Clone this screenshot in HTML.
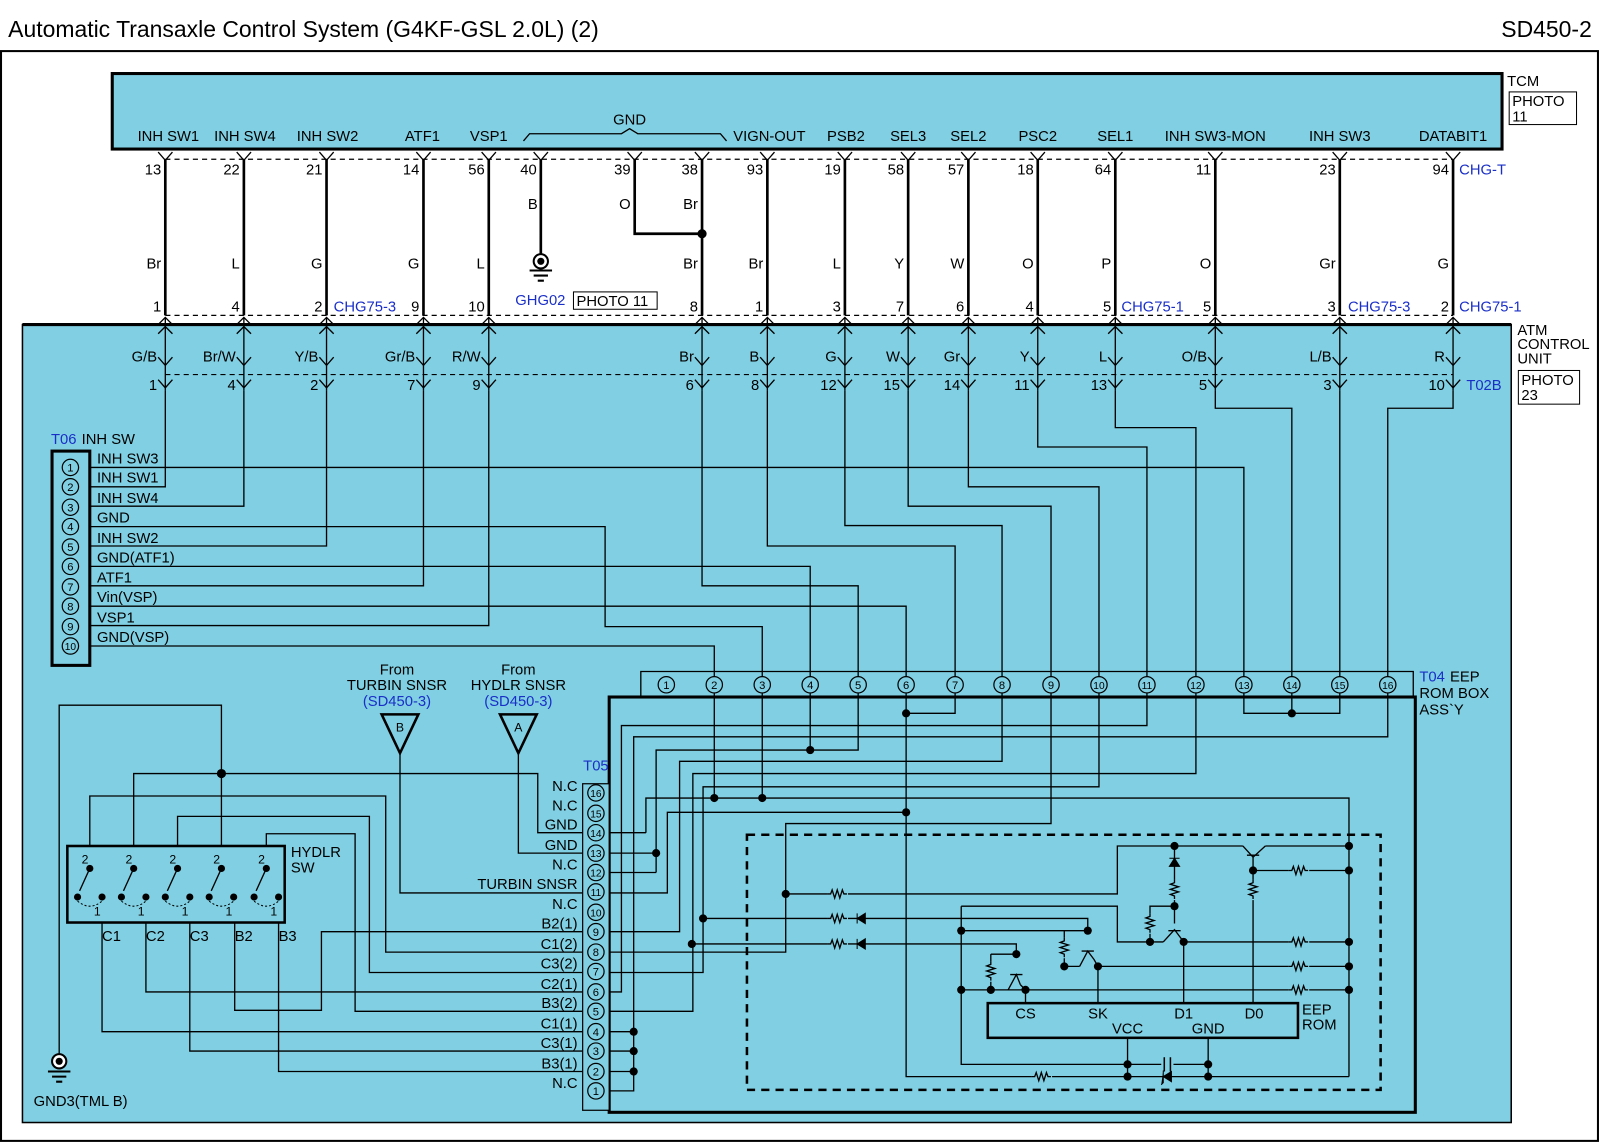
<!DOCTYPE html>
<html><head><meta charset="utf-8"><style>
html,body{margin:0;padding:0;background:#fff;}
svg{display:block;}
text{font-family:"Liberation Sans",Arial,sans-serif;font-size:14.5px;fill:#000;}
.b{fill:#1a2fc8;}
.w{stroke:#000;stroke-width:1.3;fill:none;}
.t{stroke:#000;stroke-width:2.6;fill:none;}
.d{stroke:#000;stroke-width:1.2;stroke-dasharray:5,4;fill:none;}
.c{fill:#80cfe2;stroke:#000;stroke-width:1.2;}
.e{text-anchor:end;}
.m{text-anchor:middle;}
</style></head><body>
<svg width="1600" height="1143" viewBox="0 0 1568 1120" xmlns="http://www.w3.org/2000/svg">
<defs>
<g id="rh"><rect x="-10" y="-5" width="20" height="10" fill="#80cfe2"/><path d="M-10,0 h3 l1.5,-4 l2.5,8 l2.5,-8 l2.5,8 l2.5,-8 l1.5,4 h3" class="w"/></g>
<g id="rv"><rect x="-5" y="-10" width="10" height="20" fill="#80cfe2"/><path d="M0,-10 v3 l-4,1.5 l8,2.5 l-8,2.5 l8,2.5 l-8,2.5 l4,1.5 v3" class="w"/></g>
</defs>
<rect x="0" y="0" width="1568" height="1120" fill="#fff"/>
<text x="8" y="36" style="font-size:22.5px">Automatic Transaxle Control System (G4KF-GSL 2.0L) (2)</text>
<text x="1560" y="36" class="e" style="font-size:22.5px">SD450-2</text>
<rect x="1" y="50" width="1565" height="1068" fill="none" stroke="#000" stroke-width="2"/>

<!-- TCM -->
<rect x="110" y="72" width="1362" height="74" fill="#80cfe2" stroke="#000" stroke-width="3"/>
<text x="1477" y="84">TCM</text>
<rect x="1479" y="90" width="66" height="32" fill="#fff" stroke="#000"/>
<text x="1482" y="104">PHOTO</text><text x="1482" y="119">11</text>
<g class="m">
<text x="165" y="138">INH SW1</text><text x="240" y="138">INH SW4</text><text x="321" y="138">INH SW2</text>
<text x="414" y="138">ATF1</text><text x="479" y="138">VSP1</text><text x="617" y="122">GND</text>
<text x="754" y="138">VIGN-OUT</text><text x="829" y="138">PSB2</text><text x="890" y="138">SEL3</text>
<text x="949" y="138">SEL2</text><text x="1017" y="138">PSC2</text><text x="1093" y="138">SEL1</text>
<text x="1191" y="138">INH SW3-MON</text><text x="1313" y="138">INH SW3</text><text x="1424" y="138">DATABIT1</text>
</g>
<path d="M513,138 l6,-7 h90 l8,-5 l8,5 h81 l6,7" class="w"/>

<!-- ATM box -->
<rect x="22" y="318" width="1459" height="782" fill="#80cfe2" stroke="#000" stroke-width="1.5"/>
<line x1="22" y1="318" x2="1481" y2="318" stroke="#000" stroke-width="3"/>
<text x="1487" y="328">ATM</text><text x="1487" y="342">CONTROL</text><text x="1487" y="356">UNIT</text>
<rect x="1488" y="363" width="60" height="33" fill="#fff" stroke="#000"/>
<text x="1491" y="377">PHOTO</text><text x="1491" y="392">23</text>

<line x1="162" y1="156" x2="1424" y2="156" class="d"/>
<line x1="162" y1="309" x2="1424" y2="309" class="d"/>
<line x1="162" y1="367" x2="1424" y2="367" class="d"/>

<g class="t">
<path d="M162,156V309M239,156V309M320,156V309M415,156V309M479,156V309M688,156V309M752,156V309M828,156V309M890,156V309M949,156V309M1017,156V309M1093,156V309M1191,156V309M1313,156V309M1424,156V309"/>
<path d="M530,156V252M622,156V229H688"/>
</g>
<circle cx="688" cy="229" r="4.5"/>
<circle cx="530" cy="256" r="7" fill="#fff" stroke="#000" stroke-width="2"/><circle cx="530" cy="256" r="3.5"/>
<path d="M519,265h22M523,270h14M527,275h6" stroke="#000" stroke-width="2"/>
<text x="505" y="299" class="b">GHG02</text>
<rect x="562" y="286" width="82" height="17" fill="#fff" stroke="#000"/><text x="565" y="300">PHOTO 11</text>
<g class="w">
<path d="M155,149l7,8l7,-8M232,149l7,8l7,-8M313,149l7,8l7,-8M408,149l7,8l7,-8M472,149l7,8l7,-8M523,149l7,8l7,-8M615,149l7,8l7,-8M681,149l7,8l7,-8M745,149l7,8l7,-8M821,149l7,8l7,-8M883,149l7,8l7,-8M942,149l7,8l7,-8M1010,149l7,8l7,-8M1086,149l7,8l7,-8M1184,149l7,8l7,-8M1306,149l7,8l7,-8M1417,149l7,8l7,-8"/>
</g>
<g class="e">
<text x="158" y="171">13</text><text x="235" y="171">22</text><text x="316" y="171">21</text><text x="411" y="171">14</text><text x="475" y="171">56</text><text x="526" y="171">40</text><text x="618" y="171">39</text><text x="684" y="171">38</text><text x="748" y="171">93</text><text x="824" y="171">19</text><text x="886" y="171">58</text><text x="945" y="171">57</text><text x="1013" y="171">18</text><text x="1089" y="171">64</text><text x="1187" y="171">11</text><text x="1309" y="171">23</text><text x="1420" y="171">94</text>
<text x="527" y="205">B</text><text x="618" y="205">O</text><text x="684" y="205">Br</text>
<text x="158" y="263">Br</text><text x="235" y="263">L</text><text x="316" y="263">G</text><text x="411" y="263">G</text><text x="475" y="263">L</text><text x="684" y="263">Br</text><text x="748" y="263">Br</text><text x="824" y="263">L</text><text x="886" y="263">Y</text><text x="945" y="263">W</text><text x="1013" y="263">O</text><text x="1089" y="263">P</text><text x="1187" y="263">O</text><text x="1309" y="263">Gr</text><text x="1420" y="263">G</text>
<text x="158" y="305">1</text><text x="235" y="305">4</text><text x="316" y="305">2</text><text x="411" y="305">9</text><text x="475" y="305">10</text><text x="684" y="305">8</text><text x="748" y="305">1</text><text x="824" y="305">3</text><text x="886" y="305">7</text><text x="945" y="305">6</text><text x="1013" y="305">4</text><text x="1089" y="305">5</text><text x="1187" y="305">5</text><text x="1309" y="305">3</text><text x="1420" y="305">2</text>
</g>
<text x="1430" y="171" class="b">CHG-T</text>
<text x="327" y="305" class="b">CHG75-3</text><text x="1099" y="305" class="b">CHG75-1</text><text x="1321" y="305" class="b">CHG75-3</text><text x="1430" y="305" class="b">CHG75-1</text>

<g class="w">
<path d="M162,311V383M239,311V383M320,311V383M415,311V383M479,311V383M688,311V383M752,311V383M828,311V383M890,311V383M949,311V383M1017,311V383M1093,311V383M1191,311V383M1313,311V383M1424,311V383"/>
</g>
<g class="w">
<path d="M155,318l7,-7l7,7M155,327l7,-7l7,7M155,350l7,8l7,-8M155,372l7,8l7,-8"/>
<path d="M232,318l7,-7l7,7M232,327l7,-7l7,7M232,350l7,8l7,-8M232,372l7,8l7,-8"/>
<path d="M313,318l7,-7l7,7M313,327l7,-7l7,7M313,350l7,8l7,-8M313,372l7,8l7,-8"/>
<path d="M408,318l7,-7l7,7M408,327l7,-7l7,7M408,350l7,8l7,-8M408,372l7,8l7,-8"/>
<path d="M472,318l7,-7l7,7M472,327l7,-7l7,7M472,350l7,8l7,-8M472,372l7,8l7,-8"/>
<path d="M681,318l7,-7l7,7M681,327l7,-7l7,7M681,350l7,8l7,-8M681,372l7,8l7,-8"/>
<path d="M745,318l7,-7l7,7M745,327l7,-7l7,7M745,350l7,8l7,-8M745,372l7,8l7,-8"/>
<path d="M821,318l7,-7l7,7M821,327l7,-7l7,7M821,350l7,8l7,-8M821,372l7,8l7,-8"/>
<path d="M883,318l7,-7l7,7M883,327l7,-7l7,7M883,350l7,8l7,-8M883,372l7,8l7,-8"/>
<path d="M942,318l7,-7l7,7M942,327l7,-7l7,7M942,350l7,8l7,-8M942,372l7,8l7,-8"/>
<path d="M1010,318l7,-7l7,7M1010,327l7,-7l7,7M1010,350l7,8l7,-8M1010,372l7,8l7,-8"/>
<path d="M1086,318l7,-7l7,7M1086,327l7,-7l7,7M1086,350l7,8l7,-8M1086,372l7,8l7,-8"/>
<path d="M1184,318l7,-7l7,7M1184,327l7,-7l7,7M1184,350l7,8l7,-8M1184,372l7,8l7,-8"/>
<path d="M1306,318l7,-7l7,7M1306,327l7,-7l7,7M1306,350l7,8l7,-8M1306,372l7,8l7,-8"/>
<path d="M1417,318l7,-7l7,7M1417,327l7,-7l7,7M1417,350l7,8l7,-8M1417,372l7,8l7,-8"/>
</g>
<g class="e">
<text x="154" y="354">G/B</text><text x="231" y="354">Br/W</text><text x="312" y="354">Y/B</text><text x="407" y="354">Gr/B</text><text x="471" y="354">R/W</text><text x="680" y="354">Br</text><text x="744" y="354">B</text><text x="820" y="354">G</text><text x="882" y="354">W</text><text x="941" y="354">Gr</text><text x="1009" y="354">Y</text><text x="1085" y="354">L</text><text x="1183" y="354">O/B</text><text x="1305" y="354">L/B</text><text x="1416" y="354">R</text>
<text x="154" y="382">1</text><text x="231" y="382">4</text><text x="312" y="382">2</text><text x="407" y="382">7</text><text x="471" y="382">9</text><text x="680" y="382">6</text><text x="744" y="382">8</text><text x="820" y="382">12</text><text x="882" y="382">15</text><text x="941" y="382">14</text><text x="1009" y="382">11</text><text x="1085" y="382">13</text><text x="1183" y="382">5</text><text x="1305" y="382">3</text><text x="1416" y="382">10</text>
</g>
<text x="1437" y="382" class="b">T02B</text>

<g class="w">
<path d="M162,383V477H88M239,383V496H88M320,383V535H88M415,383V574H88M479,383V613H88"/>
<path d="M688,383V574H841V683M752,383V535H936V683M828,383V515H982V683M890,383V496H1030V683M949,383V477H1077V683M1017,383V438H1124V683M1093,383V419H1172V683M1191,383V400H1266V683M1313,383V683M1424,383V400H1360V683"/>
<path d="M88,458H1219V683M88,516H593V614H747V683M88,555H794V683M88,594H888V683M88,633H700V683"/>
</g>

<text x="50" y="435" class="b">T06</text><text x="80" y="435">INH SW</text>
<rect x="51" y="442" width="37" height="210" fill="#80cfe2" stroke="#000" stroke-width="3"/>
<g>
<circle cx="69" cy="458" r="8" class="c"/><circle cx="69" cy="477" r="8" class="c"/><circle cx="69" cy="497" r="8" class="c"/><circle cx="69" cy="516" r="8" class="c"/><circle cx="69" cy="536" r="8" class="c"/><circle cx="69" cy="555" r="8" class="c"/><circle cx="69" cy="575" r="8" class="c"/><circle cx="69" cy="594" r="8" class="c"/><circle cx="69" cy="614" r="8" class="c"/><circle cx="69" cy="633" r="8" class="c"/>
</g>
<g class="m">
<text x="69" y="462" style="font-size:11px">1</text><text x="69" y="481" style="font-size:11px">2</text><text x="69" y="501" style="font-size:11px">3</text><text x="69" y="520" style="font-size:11px">4</text><text x="69" y="540" style="font-size:11px">5</text><text x="69" y="559" style="font-size:11px">6</text><text x="69" y="579" style="font-size:11px">7</text><text x="69" y="598" style="font-size:11px">8</text><text x="69" y="618" style="font-size:11px">9</text><text x="69" y="637" style="font-size:10px">10</text>
</g>
<text x="95" y="454">INH SW3</text><text x="95" y="473">INH SW1</text><text x="95" y="493">INH SW4</text><text x="95" y="512">GND</text><text x="95" y="532">INH SW2</text><text x="95" y="551">GND(ATF1)</text><text x="95" y="571">ATF1</text><text x="95" y="590">Vin(VSP)</text><text x="95" y="610">VSP1</text><text x="95" y="629">GND(VSP)</text>

<path d="M628,683V658H1385V683" class="w"/>
<rect x="597" y="683" width="790" height="407" fill="#80cfe2" stroke="#000" stroke-width="3"/>
<text x="1391" y="668" class="b">T04</text><text x="1421" y="668">EEP</text><text x="1391" y="684">ROM BOX</text><text x="1391" y="700">ASS`Y</text>

<g class="w">
<path d="M700,683V782M747,683V782M633,816V782H1322V1055M794,683V735M643,855V735H841V683"/>
<path d="M888,683V1055H1322M936,683V699H888"/>
<path d="M982,683V746H666V913H597M1030,683V807H770V933H597M1077,683V771H689V953H597M1124,683V711H609V972H597M1172,683V758H679V991H597"/>
<path d="M1219,683V699H1313V683M1266,683V699M1360,683V722H621V1069H597M597,1011H621M597,1030H621M597,1050H621"/>
<path d="M597,875H654V796H888M597,816H633M597,836H643M597,855H643"/>
</g>
<g>
<circle cx="700" cy="782" r="4"/><circle cx="747" cy="782" r="4"/><circle cx="794" cy="735" r="4"/><circle cx="888" cy="699" r="4"/><circle cx="888" cy="796" r="4"/><circle cx="1266" cy="699" r="4"/><circle cx="643" cy="836" r="4"/><circle cx="621" cy="1011" r="4"/><circle cx="621" cy="1030" r="4"/><circle cx="621" cy="1050" r="4"/>
</g>
<g>
<circle cx="653" cy="671" r="8" class="c"/><circle cx="700" cy="671" r="8" class="c"/><circle cx="747" cy="671" r="8" class="c"/><circle cx="794" cy="671" r="8" class="c"/><circle cx="841" cy="671" r="8" class="c"/><circle cx="888" cy="671" r="8" class="c"/><circle cx="936" cy="671" r="8" class="c"/><circle cx="982" cy="671" r="8" class="c"/><circle cx="1030" cy="671" r="8" class="c"/><circle cx="1077" cy="671" r="8" class="c"/><circle cx="1124" cy="671" r="8" class="c"/><circle cx="1172" cy="671" r="8" class="c"/><circle cx="1219" cy="671" r="8" class="c"/><circle cx="1266" cy="671" r="8" class="c"/><circle cx="1313" cy="671" r="8" class="c"/><circle cx="1360" cy="671" r="8" class="c"/>
</g>
<g class="m">
<text x="653" y="675" style="font-size:11px">1</text><text x="700" y="675" style="font-size:11px">2</text><text x="747" y="675" style="font-size:11px">3</text><text x="794" y="675" style="font-size:11px">4</text><text x="841" y="675" style="font-size:11px">5</text><text x="888" y="675" style="font-size:11px">6</text><text x="936" y="675" style="font-size:11px">7</text><text x="982" y="675" style="font-size:11px">8</text><text x="1030" y="675" style="font-size:11px">9</text><text x="1077" y="675" style="font-size:10px">10</text><text x="1124" y="675" style="font-size:10px">11</text><text x="1172" y="675" style="font-size:10px">12</text><text x="1219" y="675" style="font-size:10px">13</text><text x="1266" y="675" style="font-size:10px">14</text><text x="1313" y="675" style="font-size:10px">15</text><text x="1360" y="675" style="font-size:10px">16</text>
</g>

<g class="w">
<path d="M58,1033V691H217V829M131,829V758H527V816H571M88,829V780H378V933H571M174,829V800H362V953H571M261,829V817H348V991H571"/>
<path d="M392,738V875H571M508,738V836H571"/>
<path d="M100,904V1011H571M143,904V972H571M186,904V1030H571M230,904V990H315V913H571M273,904V1050H571"/>
</g>
<circle cx="217" cy="758" r="4.5"/>
<circle cx="58" cy="1040" r="7" fill="#fff" stroke="#000" stroke-width="2"/><circle cx="58" cy="1040" r="3.5"/>
<path d="M47,1050h22M51,1055h14M55,1060h6" stroke="#000" stroke-width="2"/>
<text x="33" y="1084">GND3(TML B)</text>
<path d="M374,700H410L392,738Z" fill="none" stroke="#000" stroke-width="2.5"/>
<text x="392" y="717" class="m" style="font-size:12px">B</text>
<path d="M490,700H526L508,738Z" fill="none" stroke="#000" stroke-width="2.5"/>
<text x="508" y="717" class="m" style="font-size:12px">A</text>
<text x="389" y="661" class="m">From</text><text x="389" y="676" class="m">TURBIN SNSR</text><text x="389" y="692" class="m b">(SD450-3)</text>
<text x="508" y="661" class="m">From</text><text x="508" y="676" class="m">HYDLR SNSR</text><text x="508" y="692" class="m b">(SD450-3)</text>

<rect x="66" y="829" width="213" height="75" fill="#80cfe2" stroke="#000" stroke-width="2.5"/>
<text x="285" y="840">HYDLR</text><text x="285" y="855">SW</text>
<g id="sw">
<circle cx="88" cy="851" r="3.5"/><circle cx="76" cy="879" r="3.5"/><circle cx="100" cy="879" r="3.5"/>
<path d="M88,851L78,873" class="w"/><path d="M76,883q12,10 24,0" fill="none" stroke="#000" stroke-dasharray="2,2"/>
<text x="80" y="846" style="font-size:12px">2</text><text x="92" y="897" style="font-size:12px">1</text>
</g>
<use href="#sw" x="43"/><use href="#sw" x="86"/><use href="#sw" x="129"/><use href="#sw" x="173"/>
<text x="100" y="922">C1</text><text x="143" y="922">C2</text><text x="186" y="922">C3</text><text x="230" y="922">B2</text><text x="273" y="922">B3</text>

<text x="584" y="755" class="m b">T05</text>
<rect x="571" y="768" width="26" height="320" fill="#80cfe2" stroke="#000" stroke-width="1.2"/>
<g>
<circle cx="584" cy="777" r="8" class="c"/><circle cx="584" cy="797" r="8" class="c"/><circle cx="584" cy="816" r="8" class="c"/><circle cx="584" cy="836" r="8" class="c"/><circle cx="584" cy="855" r="8" class="c"/><circle cx="584" cy="874" r="8" class="c"/><circle cx="584" cy="894" r="8" class="c"/><circle cx="584" cy="913" r="8" class="c"/><circle cx="584" cy="933" r="8" class="c"/><circle cx="584" cy="952" r="8" class="c"/><circle cx="584" cy="972" r="8" class="c"/><circle cx="584" cy="991" r="8" class="c"/><circle cx="584" cy="1011" r="8" class="c"/><circle cx="584" cy="1030" r="8" class="c"/><circle cx="584" cy="1050" r="8" class="c"/><circle cx="584" cy="1069" r="8" class="c"/>
</g>
<g class="m">
<text x="584" y="781" style="font-size:10px">16</text><text x="584" y="801" style="font-size:10px">15</text><text x="584" y="820" style="font-size:10px">14</text><text x="584" y="840" style="font-size:10px">13</text><text x="584" y="859" style="font-size:10px">12</text><text x="584" y="878" style="font-size:10px">11</text><text x="584" y="898" style="font-size:10px">10</text><text x="584" y="917" style="font-size:11px">9</text><text x="584" y="937" style="font-size:11px">8</text><text x="584" y="956" style="font-size:11px">7</text><text x="584" y="976" style="font-size:11px">6</text><text x="584" y="995" style="font-size:11px">5</text><text x="584" y="1015" style="font-size:11px">4</text><text x="584" y="1034" style="font-size:11px">3</text><text x="584" y="1054" style="font-size:11px">2</text><text x="584" y="1073" style="font-size:11px">1</text>
</g>
<g class="e">
<text x="566" y="775">N.C</text><text x="566" y="794">N.C</text><text x="566" y="813">GND</text><text x="566" y="833">GND</text><text x="566" y="852">N.C</text><text x="566" y="871">TURBIN SNSR</text><text x="566" y="891">N.C</text><text x="566" y="910">B2(1)</text><text x="566" y="930">C1(2)</text><text x="566" y="949">C3(2)</text><text x="566" y="969">C2(1)</text><text x="566" y="988">B3(2)</text><text x="566" y="1008">C1(1)</text><text x="566" y="1027">C3(1)</text><text x="566" y="1047">B3(1)</text><text x="566" y="1066">N.C</text>
</g>

<rect x="732" y="818" width="621" height="250" fill="none" stroke="#000" stroke-width="2.5" stroke-dasharray="8,6"/>
<g class="w">
<path d="M770,876H1095V829H1218M1240,829H1322"/>
<path d="M1151,829V905M1151,888H1127V923M942,888H1095V923H1140M1160,923H1322M1160,923V982"/>
<path d="M1228,840V982M1228,853H1322"/>
<path d="M689,900H1066V912M942,912H1066M1043,912V947H1058M1072,940L1076,947H1322M1076,947V982"/>
<path d="M678,925H996V935M971,935H996M971,935V970H988M1000,965L1005,970H1322M942,970H1005M1005,970V982"/>
<path d="M942,888V1043H1184M1105,1017V1055M1184,1017V1055"/>
<path d="M1218,829L1228,840L1240,829M1222,838H1234"/>
<path d="M1140,923L1151,911L1160,923M1145,912H1157"/>
<path d="M1058,947L1066,932L1072,940M1060,932H1072"/>
<path d="M988,970L996,955L1000,965M990,955H1002"/>
</g>
<use href="#rh" x="821" y="876"/><use href="#rh" x="821" y="900"/><use href="#rh" x="821" y="925"/>
<use href="#rh" x="1273" y="853"/><use href="#rh" x="1273" y="923"/><use href="#rh" x="1273" y="947"/><use href="#rh" x="1273" y="970"/><use href="#rh" x="1021" y="1055"/>
<use href="#rv" x="1151" y="872"/><use href="#rv" x="1127" y="905"/><use href="#rv" x="1228" y="872"/><use href="#rv" x="1043" y="929"/><use href="#rv" x="971" y="952"/>
<path d="M840,900l8,-5v10z M840,895v10" stroke="#000" fill="#000"/>
<path d="M840,925l8,-5v10z M840,920v10" stroke="#000" fill="#000"/>
<path d="M1151,841l-5,8h10z M1146,841h10" stroke="#000" fill="#000"/>
<rect x="1138" y="1037" width="12" height="12" fill="#80cfe2"/>
<path d="M1141,1036v14M1147,1036v14" stroke="#000" stroke-width="1.5"/>
<path d="M1140,1055l8,-5v10z M1140,1049v12l-2,2" stroke="#000" fill="#000"/>
<g>
<circle cx="770" cy="876" r="4"/><circle cx="689" cy="900" r="4"/><circle cx="678" cy="925" r="4"/>
<circle cx="1322" cy="829" r="4"/><circle cx="1322" cy="853" r="4"/><circle cx="1322" cy="923" r="4"/><circle cx="1322" cy="947" r="4"/><circle cx="1322" cy="970" r="4"/>
<circle cx="1151" cy="829" r="4"/><circle cx="1151" cy="888" r="4"/><circle cx="1127" cy="923" r="4"/><circle cx="1160" cy="923" r="4"/><circle cx="1228" cy="853" r="4"/>
<circle cx="942" cy="912" r="4"/><circle cx="1066" cy="912" r="4"/><circle cx="1043" cy="947" r="4"/><circle cx="1076" cy="947" r="4"/>
<circle cx="996" cy="935" r="4"/><circle cx="971" cy="970" r="4"/><circle cx="1005" cy="970" r="4"/><circle cx="942" cy="970" r="4"/>
<circle cx="1105" cy="1043" r="4"/><circle cx="1184" cy="1043" r="4"/><circle cx="1105" cy="1055" r="4"/><circle cx="1184" cy="1055" r="4"/>
</g>
<rect x="968" y="983" width="304" height="34" fill="#80cfe2" stroke="#000" stroke-width="2.5"/>
<text x="1005" y="998" class="m">CS</text><text x="1076" y="998" class="m">SK</text><text x="1160" y="998" class="m">D1</text><text x="1229" y="998" class="m">D0</text>
<text x="1105" y="1013" class="m">VCC</text><text x="1184" y="1013" class="m">GND</text>
<text x="1276" y="994">EEP</text><text x="1276" y="1009">ROM</text>
</svg>
</body></html>
